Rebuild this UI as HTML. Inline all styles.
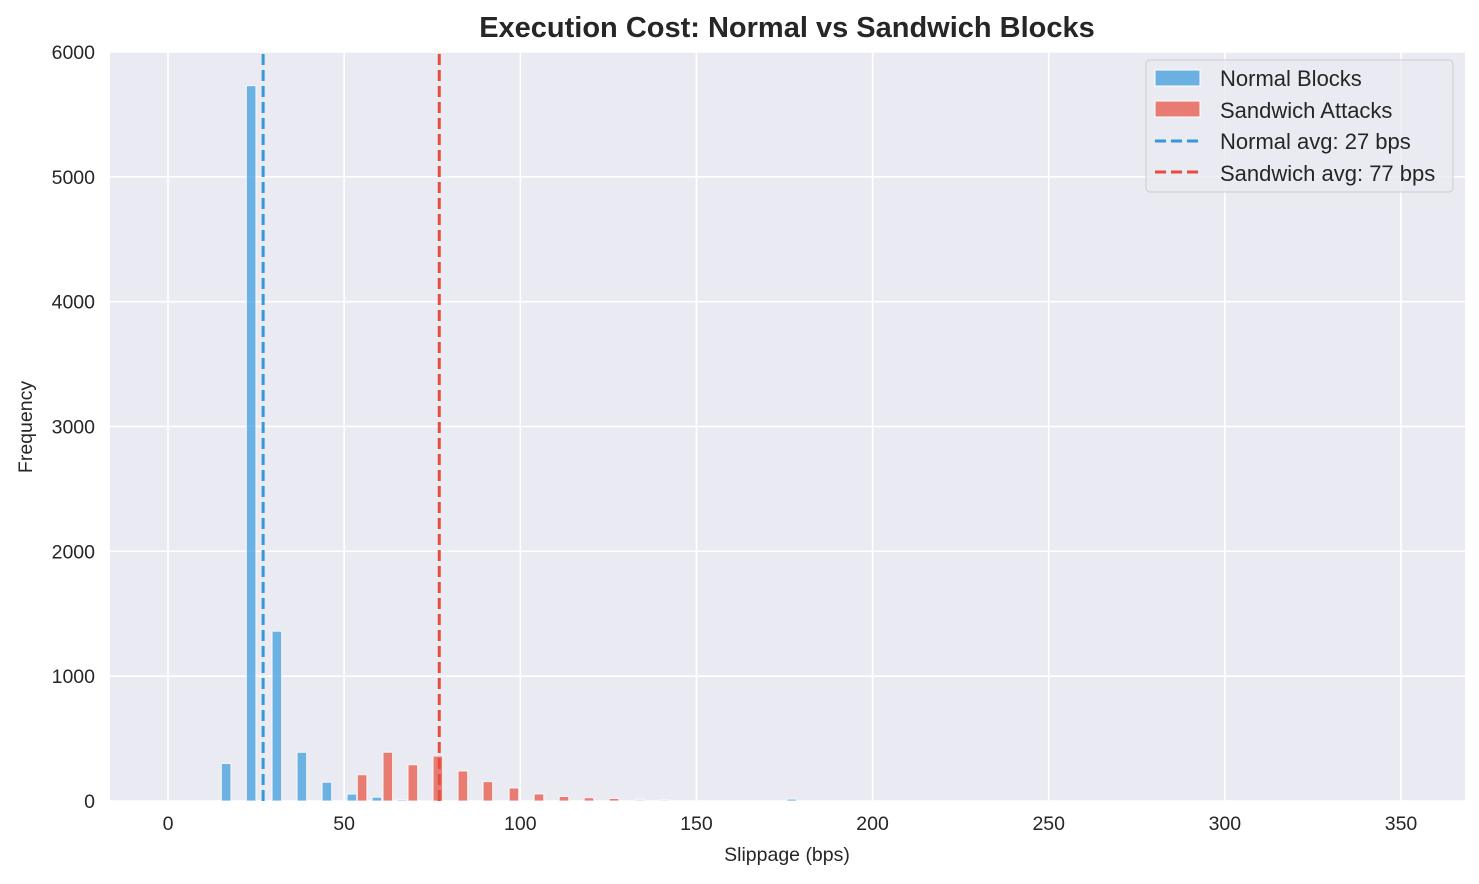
<!DOCTYPE html>
<html><head><meta charset="utf-8">
<style>
body{margin:0;background:#fff;font-family:"Liberation Sans",sans-serif;}
svg text{font-family:"Liberation Sans",sans-serif;fill:#262626;}
</style></head>
<body>
<svg id="chart" width="1479" height="879" xmlns="http://www.w3.org/2000/svg">
<rect x="110" y="52" width="1355" height="749" fill="#eaeaf2"/>
<g id="grid"></g>
<g id="bars"></g>
<g id="lines"></g>
<g id="ticks"></g>
<text x="787" y="37" text-anchor="middle" font-size="29" font-weight="bold">Execution Cost: Normal vs Sandwich Blocks</text>
<text x="787" y="861" text-anchor="middle" font-size="19.5">Slippage (bps)</text>
<text x="32" y="427" text-anchor="middle" font-size="19.5" transform="rotate(-90 32 427)">Frequency</text>
<g>
<rect x="1146" y="60" width="307" height="132" rx="4" fill="#eaeaf2" fill-opacity="0.8" stroke="#cccccc" stroke-width="1"/>
<g>
<rect x="1155" y="70" width="45" height="16" fill="#6ab0e0" stroke="#ffffff"/>
<text x="1220" y="86" font-size="22">Normal Blocks</text></g>
<g>
<rect x="1155" y="101" width="45" height="16" fill="#e87c73" stroke="#ffffff"/>
<text x="1220" y="118" font-size="22">Sandwich Attacks</text></g>
<g>
<line x1="1155" y1="141" x2="1200" y2="141" stroke="#3498db" stroke-width="3" stroke-dasharray="11,5"/>
<text x="1220" y="149" font-size="22">Normal avg: 27 bps</text></g>
<g>
<line x1="1155" y1="172" x2="1200" y2="172" stroke="#e74c3c" stroke-width="3" stroke-dasharray="11,5"/>
<text x="1220" y="181" font-size="22">Sandwich avg: 77 bps</text></g>
</g>
</svg>
<script>
const xTicks=[0,50,100,150,200,250,300,350];
const yTicks=[0,1000,2000,3000,4000,5000,6000];
const normalCenters=[16.5,23.6,30.9,38,45.1,52.2,59.3,66.4,73.5,134,141,177];
const normalCounts=[300,5730,1360,390,150,55,30,10,5,15,10,15];
const sandwichCenters=[55.1,62.4,69.5,76.6,83.7,90.8,98.2,105.3,112.4,119.5,126.6,134,141];
const sandwichCounts=[210,390,290,360,240,155,104,56,36,26,20,8,4];
const normalAvg=27, sandwichAvg=77;
const binWidth=2.7;
const NS="http://www.w3.org/2000/svg";
const sx=v=>168+v*(1401-168)/350;
const sy=v=>801-v*(801-52)/6000;
function mk(tag,attrs,parent){const e=document.createElementNS(NS,tag);for(const k in attrs)e.setAttribute(k,attrs[k]);parent.appendChild(e);return e;}
const grid=document.getElementById('grid'),ticks=document.getElementById('ticks'),bars=document.getElementById('bars'),lines=document.getElementById('lines');
xTicks.forEach(t=>{const l=mk('line',{x1:sx(t),x2:sx(t),y1:52,y2:801,stroke:'#fff','stroke-width':1.6},grid);


const tx=mk('text',{x:sx(t),y:830,'text-anchor':'middle','font-size':19.5},ticks);tx.textContent=t;

});
yTicks.forEach(t=>{const l=mk('line',{x1:110,x2:1465,y1:sy(t),y2:sy(t),stroke:'#fff','stroke-width':1.6},grid);


const tx=mk('text',{x:95,y:sy(t)+7,'text-anchor':'end','font-size':19.5},ticks);tx.textContent=t;

});
function drawBars(c,v,color,name){c.forEach((cx,i)=>{const x0=sx(cx-binWidth/2),x1=sx(cx+binWidth/2);
const r=mk('rect',{x:x0,y:sy(v[i]),width:x1-x0,height:801-sy(v[i]),fill:color,'fill-opacity':0.7,stroke:'#fff','stroke-opacity':0.8,'stroke-width':1},bars);

});}
drawBars(normalCenters,normalCounts,'#3498db','normal-bar');
drawBars(sandwichCenters,sandwichCounts,'#e74c3c','sandwich-bar');
const l1=mk('line',{x1:sx(normalAvg),x2:sx(normalAvg),y1:801,y2:52,stroke:'#3498db','stroke-width':3,'stroke-dasharray':'11,5'},lines);


const l2=mk('line',{x1:sx(sandwichAvg),x2:sx(sandwichAvg),y1:801,y2:52,stroke:'#e74c3c','stroke-width':3,'stroke-dasharray':'11,5'},lines);


</script>
</body></html>
